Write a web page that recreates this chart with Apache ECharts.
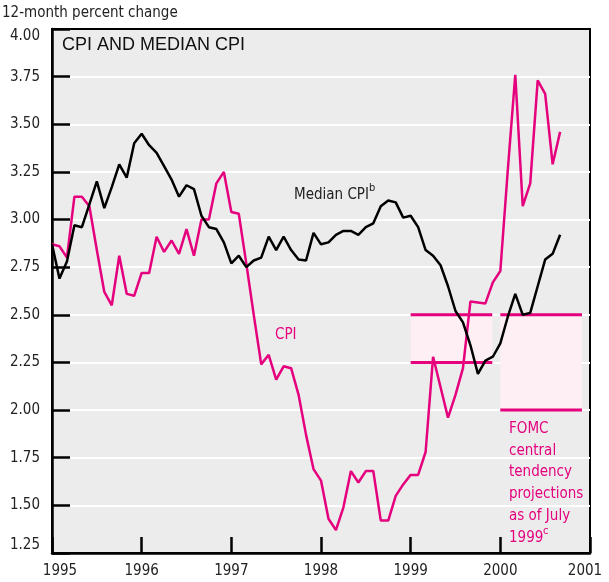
<!DOCTYPE html>
<html>
<head>
<meta charset="utf-8">
<script src="https://cdn.jsdelivr.net/npm/echarts@6/dist/echarts.min.js"></script>
<style>
  html, body { margin: 0; padding: 0; background: #fff; }
  #chart { width: 609px; height: 582px; }
</style>
</head>
<body>
<div id="chart"></div>
<script>
// monthly values, Jan 1995 .. Sep 2000
var startYear = 1995;
var cpi = [
  2.87, 2.86, 2.80, 3.12, 3.12, 3.07, 2.84, 2.62, 2.55, 2.81, 2.61, 2.60,
  2.72, 2.72, 2.91, 2.83, 2.89, 2.82, 2.95, 2.81, 3.00, 3.00, 3.19, 3.25,
  3.04, 3.03, 2.77, 2.50, 2.24, 2.29, 2.16, 2.23, 2.22, 2.08, 1.87, 1.69,
  1.63, 1.43, 1.37, 1.49, 1.68, 1.62, 1.68, 1.68, 1.42, 1.42, 1.55, 1.61,
  1.66, 1.66, 1.78, 2.28, 2.12, 1.96, 2.08, 2.22, 2.57, 2.565, 2.56, 2.67,
  2.73, 3.26, 3.76, 3.07, 3.19, 3.73, 3.66, 3.29, 3.46
];
var medianCpi = [
  2.87, 2.69, 2.78, 2.97, 2.96, 3.08, 3.20, 3.06, 3.17, 3.29, 3.22, 3.40,
  3.45, 3.39, 3.35, 3.28, 3.21, 3.12, 3.18, 3.16, 3.02, 2.96, 2.95, 2.88,
  2.77, 2.81, 2.75, 2.785, 2.80, 2.91, 2.84, 2.91, 2.84, 2.79, 2.785, 2.93,
  2.87, 2.88, 2.92, 2.94, 2.94, 2.92, 2.96, 2.98, 3.07, 3.10, 3.09, 3.01,
  3.02, 2.96, 2.84, 2.81, 2.76, 2.65, 2.52, 2.46, 2.34, 2.19, 2.26, 2.28,
  2.35, 2.49, 2.61, 2.50, 2.51, 2.65, 2.79, 2.82, 2.92
];
// FOMC central tendency ranges: [from, to, low, high]
var fomcBands = [
  [1999.0, 1999.91, 2.25, 2.50],
  [2000.0, 2000.91, 2.00, 2.50]
];
var yearMin = 1995, yearMax = 2001;
var yMin = 1.25, yMax = 4.00, yStep = 0.25;

var pink = '#e5007d';
var narrow = "'DejaVu Sans Condensed', 'Liberation Sans Narrow', sans-serif";
var fs = 15;

function toPoints(arr) {
  return arr.map(function (v, i) { return [startYear + i / 12, v]; });
}

var chart = echarts.init(document.getElementById('chart'));

var option = {
  animation: false,
  grid: {
    left: 52, right: 19, top: 29, bottom: 29,
    show: true, backgroundColor: '#ececec', borderColor: '#000', borderWidth: 2
  },
  xAxis: {
    type: 'value', min: yearMin, max: yearMax, interval: 1,
    axisLine: { show: true, onZero: false, lineStyle: { color: '#000', width: 2.5 } },
    axisTick: { show: true, inside: true, length: 16, lineStyle: { color: '#000', width: 2.5 } },
    splitLine: { show: false },
    axisLabel: {
      margin: 11, fontSize: fs, fontFamily: narrow, color: '#222',
      formatter: function (v) {
        if (v === yearMin) return '{l|' + v + '}';
        if (v === yearMax) return '{r|' + v + '}';
        return String(v);
      },
      rich: {
        l: { fontSize: fs, fontFamily: narrow, color: '#222', padding: [0, 0, 0, 16] },
        r: { fontSize: fs, fontFamily: narrow, color: '#222', padding: [0, 10, 0, 0] }
      }
    }
  },
  yAxis: {
    type: 'value', min: yMin, max: yMax, interval: yStep,
    axisLine: { show: true, lineStyle: { color: '#000', width: 2.5 } },
    axisTick: { show: true, inside: true, length: 18, lineStyle: { color: '#000', width: 2.5 } },
    splitLine: { show: true, showMinLine: false, showMaxLine: false, lineStyle: { color: '#fff', width: 2 } },
    axisLabel: {
      margin: 12, fontSize: fs, fontFamily: narrow, color: '#222',
      verticalAlignMaxLabel: 'top', verticalAlignMinLabel: 'bottom',
      formatter: function (v) { return v.toFixed(2); }
    }
  },
  graphic: [
    { type: 'text', left: 2, top: 6, style: { text: '12-month percent change', font: fs + 'px ' + narrow, fill: '#222' } },
    { type: 'text', left: 62, top: 36, style: { text: 'CPI AND MEDIAN CPI', font: '18px "Liberation Sans", Arial, sans-serif', fill: '#111' } },
    { type: 'text', left: 294, top: 188, z: 10, style: { text: 'Median CPI', font: fs + 'px ' + narrow, fill: '#222' } },
    { type: 'text', left: 369, top: 183, z: 10, style: { text: 'b', font: '11px ' + narrow, fill: '#222' } },
    { type: 'text', left: 275, top: 328, z: 10, style: { text: 'CPI', font: fs + 'px ' + narrow, fill: pink } },
    { type: 'text', left: 509, top: 418, z: 10, style: { text: 'FOMC\ncentral\ntendency\nprojections\nas of July\n1999', font: fs + 'px ' + narrow, fill: pink, lineHeight: 21.8 } },
    { type: 'text', left: 543, top: 526, z: 10, style: { text: 'c', font: '11px ' + narrow, fill: pink } }
  ],
  series: [
    {
      name: 'FOMC', type: 'custom', z: 1,
      data: fomcBands,
      encode: { x: [0, 1], y: [2, 3] },
      renderItem: function (params, api) {
        var p1 = api.coord([api.value(0), api.value(3)]);
        var p2 = api.coord([api.value(1), api.value(2)]);
        return {
          type: 'group',
          children: [
            { type: 'rect', shape: { x: p1[0], y: p1[1], width: p2[0] - p1[0], height: p2[1] - p1[1] }, style: { fill: '#fdeff3' } },
            { type: 'line', shape: { x1: p1[0], y1: p1[1], x2: p2[0], y2: p1[1] }, style: { stroke: pink, lineWidth: 3 } },
            { type: 'line', shape: { x1: p1[0], y1: p2[1], x2: p2[0], y2: p2[1] }, style: { stroke: pink, lineWidth: 3 } }
          ]
        };
      }
    },
    {
      name: 'CPI', type: 'line', z: 3, symbol: 'none',
      data: toPoints(cpi),
      lineStyle: { color: pink, width: 2.5 }
    },
    {
      name: 'Median CPI', type: 'line', z: 4, symbol: 'none',
      data: toPoints(medianCpi),
      lineStyle: { color: '#000', width: 2.5 }
    }
  ]
};

chart.setOption(option);
</script>
</body>
</html>
